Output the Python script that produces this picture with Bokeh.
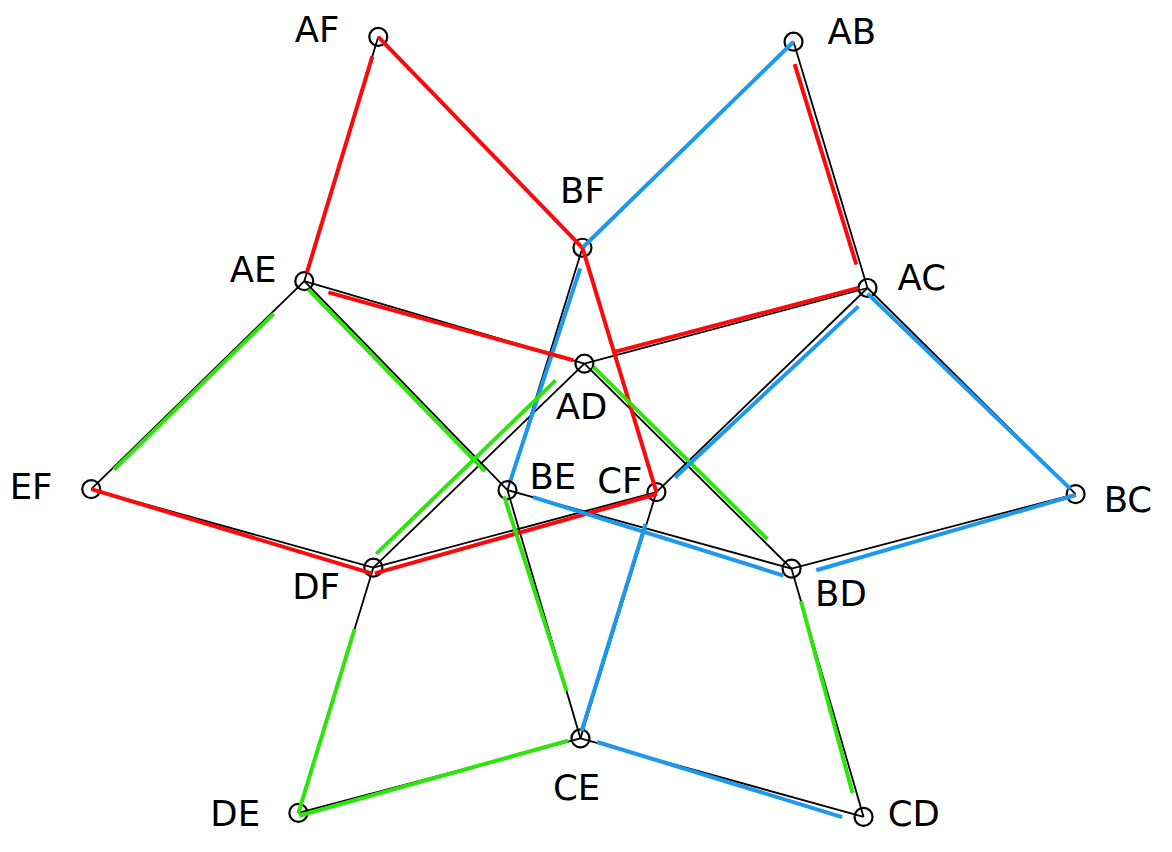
import numpy as np
from bokeh.plotting import figure
from bokeh.models import Range1d, ColumnDataSource
from bokeh.core.properties import value
from bokeh.embed import file_html
from bokeh.resources import INLINE

# ---- data ----
nodes = ["AF", "AB", "BF", "AE", "AC", "AD", "EF", "BE", "CF", "BC", "DF", "BD", "CE", "DE", "CD"]
node_x = [383, 804, 590, 308, 879, 592, 92, 514, 665, 1090, 378, 802, 588, 302, 875]
node_y = [37, 42, 252, 286, 293, 370, 498, 499, 501, 503, 578, 579, 752, 828, 832]
# label centres (middle of the capital letters)
label_x = [321, 863, 590, 256, 934, 589, 31, 560, 628, 1143, 320, 852, 584, 238, 926]
label_y = [30, 32, 194, 274, 282, 414, 495, 485, 489, 509, 597, 604, 802, 829, 829]

edge_from = ["AF", "AF", "AB", "AB", "BF", "BF", "AE", "AE", "AE", "AD", "AD", "AD",
             "AC", "AC", "EF", "DF", "BE", "BE", "CF", "BD", "BD", "DF", "DE", "CE"]
edge_to = ["AE", "BF", "BF", "AC", "BE", "CF", "AD", "EF", "BE", "AC", "DF", "BD",
           "CF", "BC", "DF", "CF", "BD", "CE", "CE", "BC", "CD", "DE", "CE", "CD"]
edge_group = ["red", "red", "blue", "red", "blue", "red", "red", "green", "green", "red", "green", "green",
              "blue", "blue", "red", "red", "blue", "green", "blue", "blue", "green", "green", "green", "blue"]
# hand-drawn overlay: portion of each edge covered and sideways shift (px)
trim_start = [0.08, 0, 0, 0.085, 0.08, 0, 0.09, 0.15, 0.03, 0.11, 0.11, 0.03,
              0.066, 0.014, 0, 0, 0.09, 0.02, 0.13, 0.08, 0.13, 0.25, 0, 0.058]
trim_end = [0.965, 1, 1, 0.90, 0.96, 1, 0.96, 0.90, 0.90, 0.97, 0.96, 0.87,
            0.92, 0.974, 1, 1, 0.98, 0.81, 0.97, 1, 0.90, 1, 0.957, 0.93]
shift_start = [0, 0, 0, 5.5, -4, 0, 4, -2, 3, -3.5, 8, -4, -7, 4, 0, 6, 0, 5, 1, 8, 0, 0, 3, -1]
shift_end = [0, 0, 0, 4, 0, 0, 0, -2, 3, -2.5, 8, -4, -2.5, 0, 6, 2, 9, 0, 1, 1, 4, 0, -1, 6]

palette = {"red": "#fa0a0a", "blue": "#1c98ee", "green": "#2ee40c"}

# ---- geometry derived from data ----
pos = {n: (x, y) for n, x, y in zip(nodes, node_x, node_y)}
x0 = np.array([pos[a][0] for a in edge_from], float)
y0 = np.array([pos[a][1] for a in edge_from], float)
x1 = np.array([pos[b][0] for b in edge_to], float)
y1 = np.array([pos[b][1] for b in edge_to], float)
dx, dy = x1 - x0, y1 - y0
ln = np.hypot(dx, dy)
ux, uy = dx / ln, dy / ln
nx, ny = -uy, ux
ts, te = np.array(trim_start), np.array(trim_end)
ss, se = np.array(shift_start), np.array(shift_end)
cx0 = x0 + ts * dx + ss * nx
cy0 = y0 + ts * dy + ss * ny
cx1 = x0 + te * dx + se * nx
cy1 = y0 + te * dy + se * ny

black_src = ColumnDataSource(dict(x0=x0, y0=y0, x1=x1, y1=y1))
col_src = ColumnDataSource(dict(x0=cx0, y0=cy0, x1=cx1, y1=cy1,
                                c=[palette[g] for g in edge_group]))
node_src = ColumnDataSource(dict(x=node_x, y=node_y))
lab_src = ColumnDataSource(dict(x=label_x, y=label_y, t=nodes))

p = figure(width=1156, height=836, output_backend="svg", toolbar_location=None,
           x_range=Range1d(0, 1172), y_range=Range1d(852, 0),
           min_border=0, min_border_left=0, min_border_right=0,
           min_border_top=0, min_border_bottom=0)
p.axis.visible = False
p.grid.visible = False
p.outline_line_color = None
p.background_fill_color = "white"
p.border_fill_color = "white"

p.segment("x0", "y0", "x1", "y1", source=black_src, line_color="black", line_width=1.8)
p.scatter("x", "y", source=node_src, marker="circle", size=18, fill_alpha=0,
          line_color="black", line_width=2.2)
p.segment("x0", "y0", "x1", "y1", source=col_src, line_color="c", line_width=4)
p.text("x", "y", text="t", source=lab_src, text_font=value("DejaVu Sans"),
       text_font_size="35.5px", text_align="center", text_baseline="middle",
       text_color="black")

open("out.html", "w").write(file_html(p, INLINE))
